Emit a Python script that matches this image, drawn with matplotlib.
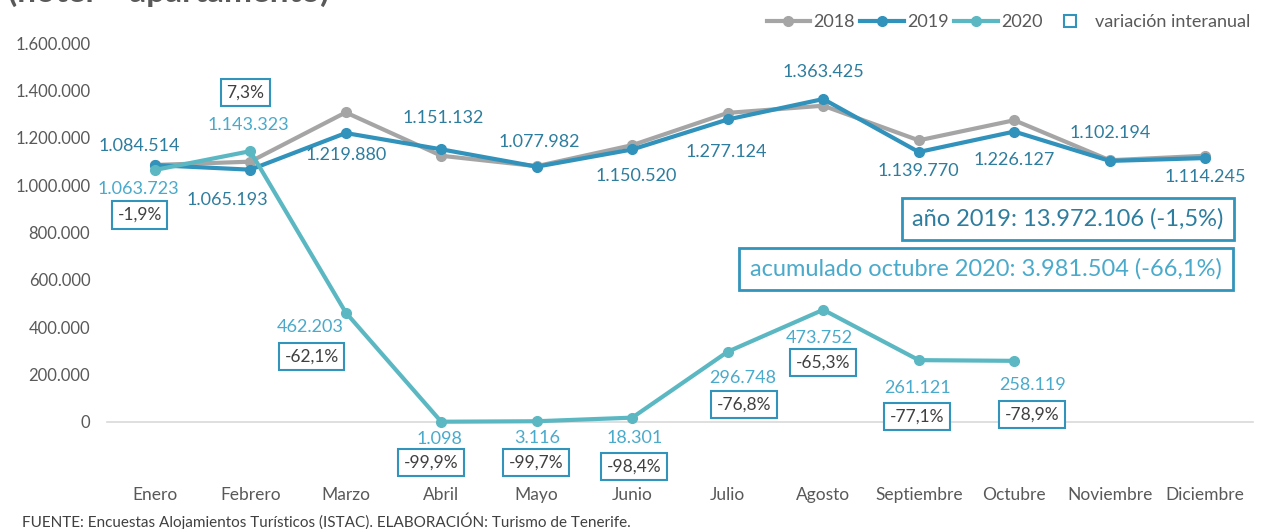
import numpy as np
import matplotlib.pyplot as plt
from matplotlib.lines import Line2D
from matplotlib.ticker import FuncFormatter

plt.rcParams['font.family'] = ['Lato', 'DejaVu Sans']

# Datos: pernoctaciones / turistas alojados (hotel + apartamento)
meses = ['Enero', 'Febrero', 'Marzo', 'Abril', 'Mayo', 'Junio', 'Julio',
         'Agosto', 'Septiembre', 'Octubre', 'Noviembre', 'Diciembre']
v2018 = [1085000, 1099000, 1307000, 1124000, 1080000, 1168800, 1305000,
         1335300, 1189000, 1274000, 1105000, 1124000]
v2019 = [1084514, 1065193, 1219880, 1151132, 1077982, 1150520, 1277124,
         1363425, 1139770, 1226127, 1102194, 1114245]
v2020 = [1063723, 1143323, 462203, 1098, 3116, 18301, 296748, 473752,
         261121, 258119]
variacion = ['-1,9%', '7,3%', '-62,1%', '-99,9%', '-99,7%', '-98,4%',
             '-76,8%', '-65,3%', '-77,1%', '-78,9%']
resumen_2019 = 'año 2019: 13.972.106 (-1,5%)'
resumen_2020 = 'acumulado octubre 2020: 3.981.504 (-66,1%)'

# colores
c18 = '#A5A5A5'
c19 = '#3192BB'
c20 = '#5BB8C3'
lab19 = '#2E7D9E'
lab20 = '#4AAACB'
gris = '#595959'
caja = '#3394BB'


def miles(x, pos=None):
    return f'{int(round(x)):,}'.replace(',', '.')


fig = plt.figure(figsize=(12.63, 5.29), dpi=100)
ax = fig.add_axes([0.0847, 0.2023, 0.9074, 0.7164])

x = np.arange(len(meses))
ax.plot(x, v2018, color=c18, lw=3, marker='o', ms=7, zorder=2, clip_on=False)
ax.plot(x, v2019, color=c19, lw=3, marker='o', ms=7, zorder=3, clip_on=False)
ax.plot(x[:len(v2020)], v2020, color=c20, lw=3, marker='o', ms=7, zorder=4,
        clip_on=False)

ax.set_xlim(-0.5, len(meses) - 0.5)
ax.set_ylim(0, 1600000)
ax.set_yticks(np.arange(0, 1600001, 200000))
ax.yaxis.set_major_formatter(FuncFormatter(miles))
ax.set_xticks(x)
ax.set_xticklabels(meses)
ax.tick_params(axis='both', length=0, labelsize=12, labelcolor=gris)
ax.tick_params(axis='x', pad=47, labelsize=12.5)
ax.tick_params(axis='y', pad=12)
for s in ['top', 'right', 'left']:
    ax.spines[s].set_visible(False)
ax.spines['bottom'].set_color('#D9D9D9')
ax.spines['bottom'].set_linewidth(1.2)

# etiquetas de datos (desplazamientos en pixeles)
off19 = [(-15, 19), (-23, -30), (0, -22), (2, 31), (3, 25), (4, -27),
         (-1, -33), (0, 27), (0, -19), (0, -28), (0, 28), (0, -19)]
for i, v in enumerate(v2019):
    ax.annotate(miles(v), (x[i], v), xytext=off19[i], textcoords='offset pixels',
                ha='center', va='center', fontsize=13, color=lab19, zorder=7)

off20 = [(-16, -19), (-2, 26), (-36, -14), (-2, -17), (0, -17), (2, -20),
         (15, -26), (-4, -28), (-1, -28), (18, -24)]
for i, v in enumerate(v2020):
    ax.annotate(miles(v), (x[i], v), xytext=off20[i], textcoords='offset pixels',
                ha='center', va='center', fontsize=13, color=lab20, zorder=7)

# cajas de variación interanual
offvar = [(-15, -45), (-5, 59), (-34, -44), (-10, -41), (-1, -41), (2, -49),
          (16, -53), (0, -53), (-2, -56), (18, -54)]
for i, t in enumerate(variacion):
    ax.annotate(t, (x[i], v2020[i]), xytext=offvar[i], textcoords='offset pixels',
                ha='center', va='center', fontsize=12.5, color='#404040',
                bbox=dict(boxstyle='square,pad=0.32', fc='white', ec=caja, lw=1.5),
                zorder=6)

# cajas resumen
fig.text(1068 / 1263, 1 - 219 / 529, resumen_2019, ha='center', va='center',
         fontsize=17, color=lab19,
         bbox=dict(boxstyle='square,pad=0.45', fc='white', ec=caja, lw=2))
fig.text(986 / 1263, 1 - 269 / 529, resumen_2020, ha='center', va='center',
         fontsize=17, color=lab20,
         bbox=dict(boxstyle='square,pad=0.45', fc='white', ec=caja, lw=2))

# leyenda
handles = [Line2D([], [], color=c18, lw=3, marker='o', ms=7),
           Line2D([], [], color=c19, lw=3, marker='o', ms=7),
           Line2D([], [], color=c20, lw=3, marker='o', ms=7),
           Line2D([], [], ls='none', marker='s', ms=8, mfc='white', mec=caja,
                  mew=1.5)]
leg = fig.legend(handles, ['2018', '2019', '2020', 'variación interanual'],
                 loc='center right', bbox_to_anchor=(1.003, 1 - 22 / 529),
                 ncol=4, frameon=False, fontsize=13, handlelength=2.4,
                 handletextpad=0.2, columnspacing=0.3)
for t in leg.get_texts():
    t.set_color(gris)

# título (cortado en la parte superior, como en la imagen original)
fig.text(8 / 1263, 1 - 2 / 529, '(hotel + apartamento)', ha='left',
         va='baseline', fontsize=24, fontweight='bold', color=gris)

fig.text(22 / 1263, 1 - 521 / 529,
         'FUENTE: Encuestas Alojamientos Turísticos (ISTAC). '
         'ELABORACIÓN: Turismo de Tenerife.',
         ha='left', va='center', fontsize=11, color='#404040')

fig.savefig('out.png', dpi=100)
